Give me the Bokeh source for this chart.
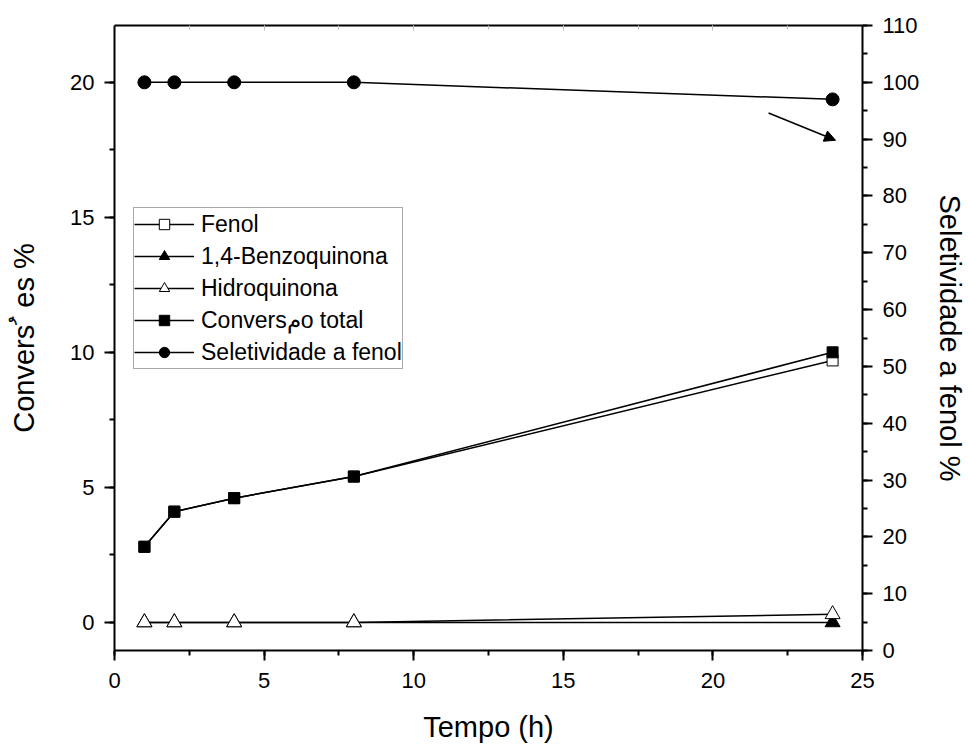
from bokeh.plotting import figure
from bokeh.models import (LinearAxis, Range1d, SingleIntervalTicker, Legend, LegendItem,
                          Arrow, NormalHead, CustomJSTickFormatter)
from bokeh.embed import file_html
from bokeh.resources import INLINE

# ---- data ----
tempo = [1, 2, 4, 8, 24]
fenol = [2.8, 4.1, 4.6, 5.4, 9.7]
benzoquinona = [0, 0, 0, 0, 0]
hidroquinona = [0, 0, 0, 0, 0.3]
conversao_total = [2.8, 4.1, 4.6, 5.4, 10.0]
seletividade = [100, 100, 100, 100, 97]

arrow_x = [21.86, 24.1]
arrow_y = [94.6, 89.8]

x_label = "Tempo (h)"
y_label = "Convers\uFE78 es %"
y2_label = "Seletividade a fenol %"
names = ["Fenol", "1,4-Benzoquinona", "Hidroquinona", "Convers\u0645o total", "Seletividade a fenol"]

FONT = "Liberation Sans"

p = figure(frame_width=748, frame_height=625,
           x_range=Range1d(0, 25), y_range=Range1d(-1.04, 22.1),
           output_backend="svg", toolbar_location=None,
           min_border_left=114, min_border_right=106, min_border_top=25, min_border_bottom=97)
p.extra_y_ranges = {"right": Range1d(0, 110)}
p.xgrid.visible = False
p.ygrid.visible = False
p.outline_line_color = None
p.background_fill_color = "white"

bottom_axis = p.below[0]
left_axis = p.left[0]
right_axis = LinearAxis(y_range_name="right")
p.add_layout(right_axis, "right")
top_axis = LinearAxis()
p.add_layout(top_axis, "above")

bottom_axis.ticker = SingleIntervalTicker(interval=5, num_minor_ticks=2)
top_axis.ticker = SingleIntervalTicker(interval=5, num_minor_ticks=2)
left_axis.ticker = SingleIntervalTicker(interval=5, num_minor_ticks=2)
right_axis.ticker = SingleIntervalTicker(interval=10, num_minor_ticks=2)

for ax in [bottom_axis, left_axis, right_axis]:
    ax.axis_line_width = 2
    ax.axis_line_color = "black"
    ax.major_tick_line_width = 2
    ax.minor_tick_line_width = 2
    ax.major_tick_line_color = "black"
    ax.minor_tick_line_color = "black"
    ax.major_tick_in = 0
    ax.major_tick_out = 10
    ax.minor_tick_in = 0
    ax.minor_tick_out = 5
    ax.major_label_text_font = FONT
    ax.major_label_text_font_size = "22px"
    ax.major_label_text_color = "black"
    ax.axis_label_text_font = FONT
    ax.axis_label_text_font_size = "29px"
    ax.axis_label_text_font_style = "normal"
    ax.axis_label_text_color = "black"

bottom_axis.axis_label = x_label
bottom_axis.major_label_standoff = 12
bottom_axis.axis_label_standoff = 20
left_axis.axis_label = y_label
left_axis.major_label_standoff = 10
left_axis.axis_label_standoff = 27
right_axis.axis_label = y2_label
right_axis.major_label_standoff = 10
right_axis.axis_label_standoff = 12

top_axis.axis_line_width = 2
top_axis.axis_line_color = "black"
top_axis.major_tick_in = 5
top_axis.major_tick_out = 0
top_axis.minor_tick_in = 4
top_axis.minor_tick_out = 0
top_axis.major_tick_line_color = "#bbbbbb"
top_axis.minor_tick_line_color = "#bbbbbb"
top_axis.major_tick_line_width = 1
top_axis.minor_tick_line_width = 1
top_axis.formatter = CustomJSTickFormatter(code="return ''")
top_axis.major_label_standoff = 0

LW = 1.5
r_fl = p.line(tempo, fenol, line_color="black", line_width=LW)
r_bl = p.line(tempo, benzoquinona, line_color="black", line_width=LW)
r_hl = p.line(tempo, hidroquinona, line_color="black", line_width=LW)
r_cl = p.line(tempo, conversao_total, line_color="black", line_width=LW)
r_sl = p.line(tempo, seletividade, line_color="black", line_width=LW, y_range_name="right")

r_fm = p.scatter(tempo, fenol, marker="square", size=11, fill_color="white", line_color="black", line_width=1)
r_bm = p.scatter(tempo, benzoquinona, marker="triangle", size=15, fill_color="black", line_color="black", line_width=1)
r_hm = p.scatter(tempo, hidroquinona, marker="triangle", size=15, fill_color="white", line_color="black", line_width=1)
r_cm = p.scatter(tempo, conversao_total, marker="square", size=11, fill_color="black", line_color="black", line_width=1)
r_sm = p.scatter(tempo, seletividade, marker="circle", size=13, fill_color="black", line_color="black",
                 line_width=1, y_range_name="right")

p.add_layout(Arrow(end=NormalHead(size=11, fill_color="black", line_color="black", line_width=1),
                   x_start=arrow_x[0], y_start=arrow_y[0], x_end=arrow_x[1], y_end=arrow_y[1],
                   y_range_name="right", line_width=1.5, line_color="black"))

legend = Legend(items=[
    LegendItem(label=names[0], renderers=[r_fl, r_fm]),
    LegendItem(label=names[1], renderers=[r_bl, r_bm]),
    LegendItem(label=names[2], renderers=[r_hl, r_hm]),
    LegendItem(label=names[3], renderers=[r_cl, r_cm]),
    LegendItem(label=names[4], renderers=[r_sl, r_sm]),
], location=(19, 281), padding=0, margin=0, spacing=0,
    glyph_width=60, glyph_height=26, label_height=32, label_standoff=7,
    label_text_font=FONT, label_text_font_size="23px", label_text_color="black",
    border_line_color="#555555", border_line_width=1, background_fill_alpha=1)
p.add_layout(legend)

open("out.html", "w").write(file_html(p, INLINE))
